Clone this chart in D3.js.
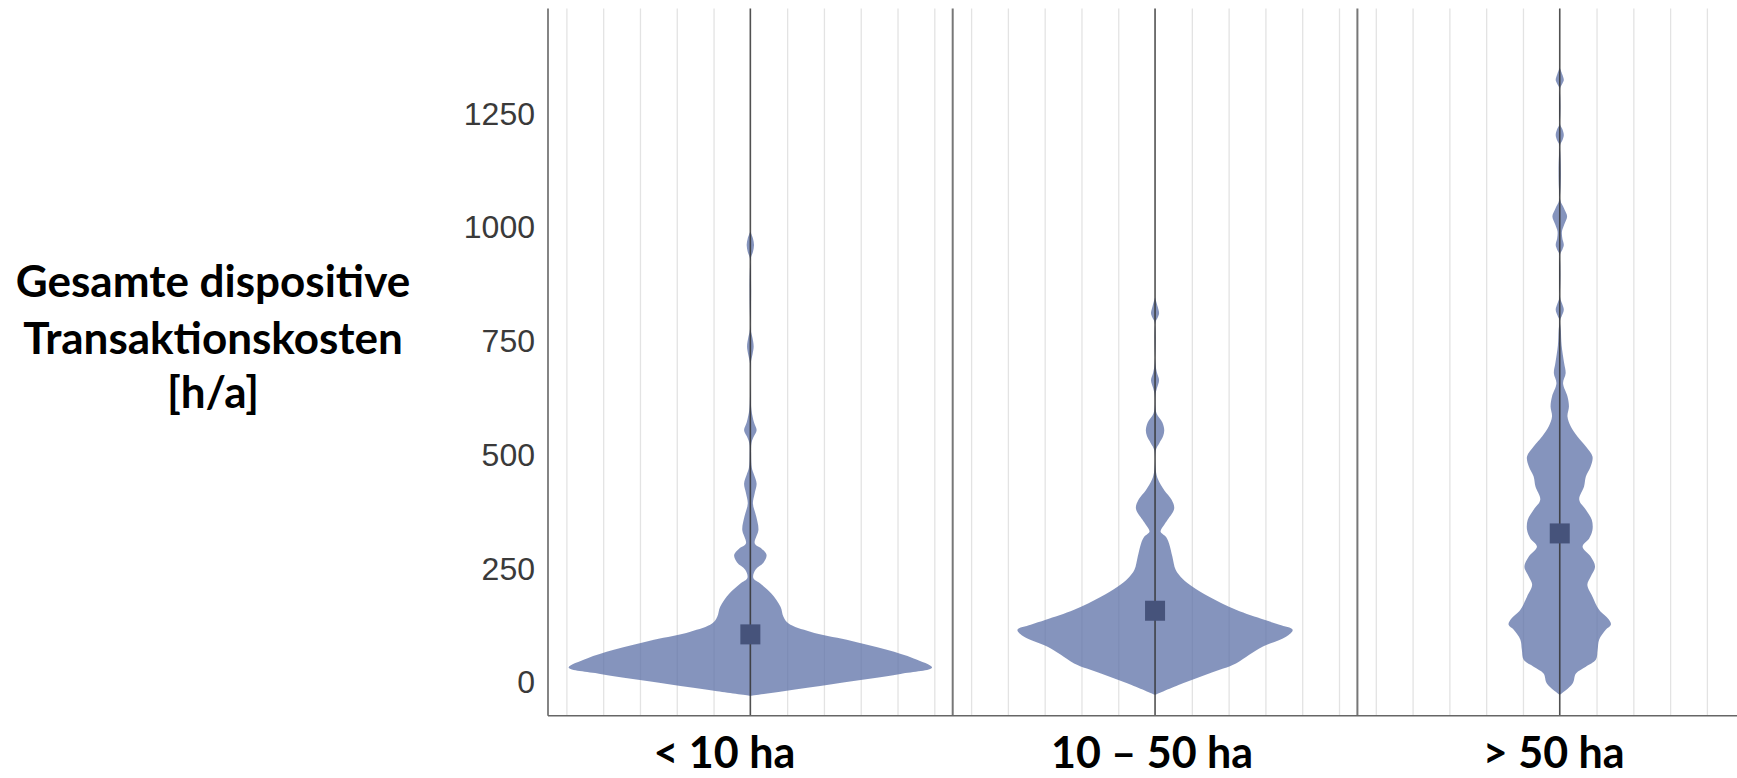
<!DOCTYPE html>
<html>
<head>
<meta charset="utf-8">
<script src="https://cdn.jsdelivr.net/npm/d3@7"></script>
<style>
  body { margin: 0; background: #fff; }
  .grid line { stroke: #e3e3e3; stroke-width: 1.3; }
  .grid path { display: none; }
  .ytick { font-family: "Liberation Sans", Arial, sans-serif; font-size: 32px; fill: #3a3a3a; }
  .cat { font-family: Lato, "Open Sans", sans-serif; font-weight: 700; font-size: 43px; fill: #000; }
  .ytitle { font-family: Lato, "Open Sans", sans-serif; font-weight: 700; font-size: 44px; fill: #000; }
</style>
</head>
<body>
<svg id="chart" width="1737" height="778"></svg>
<script>
// categories and tick labels
const categories = ["< 10 ha", "10 – 50 ha", "> 50 ha"];
const yTicks = [0, 250, 500, 750, 1000, 1250];
const titleLines = ["Gesamte dispositive", "Transaktionskosten", "[h/a]"];

// violin outlines: [value, half width in grid units]
const violinSmall = [
  [-31, 0], [-21, 0.9], [-5, 2.26], [17, 4.08], [31, 4.94], [51, 4.44], [70, 3.71],
  [92, 2.62], [110, 1.63], [128, 1.04], [143, 0.9], [165, 0.82], [194, 0.57],
  [216, 0.27], [228, 0.08], [246, 0.14], [262, 0.36], [279, 0.44], [293, 0.3],
  [304, 0.12], [334, 0.22], [363, 0.16], [392, 0.07], [415, 0.12], [436, 0.17],
  [455, 0.1], [470, 0.04], [500, 0.02], [525, 0.03], [540, 0.1], [553, 0.17],
  [570, 0.1], [597, 0.03], [627, 0.01], [700, 0.01], [720, 0.06], [737, 0.09],
  [755, 0.06], [775, 0.01], [930, 0.01], [945, 0.07], [960, 0.1], [975, 0.07], [990, 0]
];
const violinMedium = [
  [-29, 0], [-4, 0.74], [18, 1.47], [40, 2.2], [59, 2.56], [77, 2.92], [99, 3.56],
  [114, 3.74], [125, 3.38], [136, 2.97], [158, 2.2], [187, 1.47], [209, 1.02],
  [227, 0.74], [246, 0.56], [275, 0.47], [304, 0.38], [318, 0.3], [330, 0.15],
  [345, 0.25], [356, 0.34], [381, 0.52], [400, 0.45], [421, 0.25], [445, 0.08],
  [465, 0.02], [509, 0.02], [525, 0.12], [540, 0.22], [553, 0.25], [570, 0.2],
  [590, 0.04], [630, 0.01], [645, 0.05], [663, 0.11], [680, 0.05], [700, 0.01],
  [790, 0.01], [800, 0.07], [810, 0.11], [825, 0.07], [845, 0]
];
const violinLarge = [
  [-29, 0], [-4, 0.35], [18, 0.44], [33, 0.71], [48, 0.98], [70, 1.03], [92, 1.07],
  [114, 1.25], [125, 1.39], [136, 1.34], [158, 1.07], [187, 0.89], [213, 0.75],
  [231, 0.84], [253, 0.96], [275, 0.84], [297, 0.62], [315, 0.8], [334, 0.89],
  [356, 0.87], [378, 0.71], [400, 0.53], [429, 0.66], [451, 0.71], [473, 0.84],
  [495, 0.89], [517, 0.71], [539, 0.48], [561, 0.3], [583, 0.21], [605, 0.25],
  [627, 0.21], [656, 0.09], [678, 0.16], [700, 0.12], [740, 0.05], [773, 0.03],
  [795, 0.01], [805, 0.06], [818, 0.11], [832, 0.06], [845, 0.01], [940, 0.01],
  [950, 0.07], [960, 0.11], [975, 0.07], [990, 0.06], [1005, 0.12], [1023, 0.2],
  [1040, 0.12], [1060, 0.01], [1180, 0.01], [1190, 0.07], [1202, 0.11], [1215, 0.07],
  [1225, 0.01], [1305, 0.01], [1315, 0.07], [1323, 0.11], [1335, 0.07], [1350, 0]
];
const violins = [violinSmall, violinMedium, violinLarge];
const medians = [104, 156, 326];

const gridTicks = [-5, -4, -3, -2, -1, 1, 2, 3, 4, 5];
const labelShift = [-26, -3, -6];

const W = 1737, H = 778;
const plotLeft = 548, plotTop = 8.6, plotBottom = 715.8;
const panelW = 404.7;

const svg = d3.select("#chart");

const y = d3.scaleLinear().domain([-75, 1480]).range([plotBottom, plotTop]);
const x = d3.scaleBand().domain(categories).range([plotLeft, plotLeft + 3 * panelW]);
const dens = d3.scaleLinear().domain([0, 5.5]).range([0, panelW / 2]);

const plot = svg.append("g");
plot.append("clipPath").attr("id", "clip")
  .append("rect").attr("x", plotLeft).attr("y", 0).attr("width", W - plotLeft).attr("height", H);

const body = plot.append("g").attr("clip-path", "url(#clip)");

// grid lines per panel
categories.forEach(c => {
  const cx = x(c) + x.bandwidth() / 2;
  const gx = d3.scaleLinear().domain([-5.5, 5.5]).range([cx - panelW / 2, cx + panelW / 2]);
  body.append("g")
    .attr("class", "grid")
    .attr("transform", `translate(0,${plotBottom})`)
    .call(d3.axisBottom(gx).tickValues(gridTicks).tickSize(-(plotBottom - plotTop)).tickFormat(""));
});

// violins
const area = d3.area()
  .curve(d3.curveCatmullRom.alpha(0.5))
  .y(d => y(d[0]));

violins.forEach((v, i) => {
  const cx = x(categories[i]) + x.bandwidth() / 2;
  body.append("path")
    .datum(v)
    .attr("fill", "#5a6ea6")
    .attr("fill-opacity", 0.74)
    .attr("d", area.x0(d => cx - dens(d[1])).x1(d => cx + dens(d[1])));
});

// center lines
body.selectAll(".center")
  .data(categories)
  .join("line")
  .attr("x1", d => x(d) + x.bandwidth() / 2)
  .attr("x2", d => x(d) + x.bandwidth() / 2)
  .attr("y1", plotTop)
  .attr("y2", plotBottom)
  .attr("stroke", "#333")
  .attr("stroke-opacity", 0.85)
  .attr("stroke-width", 1.6);

// panel separators
body.selectAll(".sep")
  .data(categories.slice(1))
  .join("line")
  .attr("x1", d => x(d))
  .attr("x2", d => x(d))
  .attr("y1", plotTop)
  .attr("y2", plotBottom)
  .attr("stroke", "#777")
  .attr("stroke-width", 2);

// medians
body.selectAll(".median")
  .data(medians)
  .join("rect")
  .attr("x", (d, i) => x(categories[i]) + x.bandwidth() / 2 - 10)
  .attr("y", d => y(d) - 10)
  .attr("width", 20)
  .attr("height", 20)
  .attr("fill", "#46537b");

// axes lines
plot.append("line")
  .attr("x1", plotLeft).attr("x2", plotLeft)
  .attr("y1", plotTop).attr("y2", plotBottom)
  .attr("stroke", "#666").attr("stroke-width", 1.6);
plot.append("line")
  .attr("x1", plotLeft).attr("x2", W)
  .attr("y1", plotBottom).attr("y2", plotBottom)
  .attr("stroke", "#666").attr("stroke-width", 1.6);

// y tick labels
svg.selectAll(".ytick")
  .data(yTicks)
  .join("text")
  .attr("class", "ytick")
  .attr("x", 535)
  .attr("y", d => y(d))
  .attr("dy", "0.36em")
  .attr("text-anchor", "end")
  .text(d => d);

// category labels
svg.selectAll(".cat")
  .data(categories)
  .join("text")
  .attr("class", "cat")
  .attr("x", (d, i) => x(d) + x.bandwidth() / 2 + labelShift[i])
  .attr("y", 768)
  .attr("text-anchor", "middle")
  .text(d => d);

// y title
const baselines = [297, 354, 408];
svg.selectAll(".ytitle")
  .data(titleLines)
  .join("text")
  .attr("class", "ytitle")
  .attr("x", 213)
  .attr("y", (d, i) => baselines[i])
  .attr("text-anchor", "middle")
  .text(d => d);
</script>
</body>
</html>
